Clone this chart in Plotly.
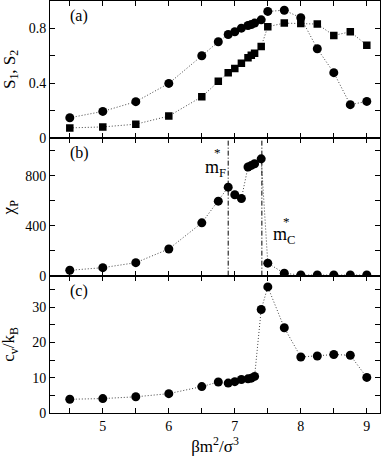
import plotly.graph_objects as go
from plotly.subplots import make_subplots

# beta m^2 / sigma^3
x_vals = [4.5, 5.0, 5.5, 6.0, 6.5, 6.75, 6.9, 7.0, 7.1, 7.2, 7.25, 7.3, 7.4, 7.5, 7.75, 8.0, 8.25, 8.5, 8.75, 9.0]

# panel (a): order parameters
s1 = [0.150, 0.196, 0.267, 0.400, 0.601, 0.703, 0.756, 0.776, 0.802, 0.822, 0.829, 0.839, 0.863,
      0.924, 0.933, 0.878, 0.652, 0.478, 0.245, 0.269]
s2 = [0.076, 0.083, 0.103, 0.162, 0.303, 0.415, 0.478, 0.508, 0.547, 0.586, 0.605, 0.620, 0.669,
      0.813, 0.839, 0.837, 0.832, 0.749, 0.776, 0.678]

# panel (b): susceptibility
chi_p = [43, 64, 104, 214, 423, 597, 709, 648, 618, 870, 883, 896, 936,
         100, 19, 5, 5, 5, 5, 5]

# panel (c): specific heat
cv = [3.9, 4.1, 4.6, 5.5, 7.5, 8.8, 8.5, 8.9, 9.5, 9.7, 9.9, 10.4, 29.4,
      35.8, 24.2, 15.9, 16.2, 16.6, 16.4, 10.1]

# transition markers m_F*, m_C*
m_crit = [6.9, 7.41]

# ticks (empty label = unlabelled minor tick)
x_tickvals = [4.5, 5, 5.5, 6, 6.5, 7, 7.5, 8, 8.5, 9]
x_ticktext = ["", "5", "", "6", "", "7", "", "8", "", "9"]
a_tickvals = [0, 0.2, 0.4, 0.6, 0.8]
a_ticktext = ["0", "", "0.4", "", "0.8"]
b_tickvals = [0, 200, 400, 600, 800, 1000]
b_ticktext = ["0", "", "400", "", "800", ""]
c_tickvals = [0, 5, 10, 15, 20, 25, 30, 35]
c_ticktext = ["0", "", "10", "", "20", "", "30", ""]

FONT = "Liberation Serif"
dot_line = dict(color="#444444", width=1, dash="1px,2px")

fig = make_subplots(rows=3, cols=1, shared_xaxes=True, vertical_spacing=0)

fig.add_trace(go.Scatter(x=x_vals, y=s1, mode="lines+markers", line=dot_line,
                         marker=dict(symbol="circle", size=9, color="black")), row=1, col=1)
fig.add_trace(go.Scatter(x=x_vals, y=s2, mode="lines+markers", line=dot_line,
                         marker=dict(symbol="square", size=7.5, color="black")), row=1, col=1)
fig.add_trace(go.Scatter(x=x_vals, y=chi_p, mode="lines+markers", line=dot_line,
                         marker=dict(symbol="circle", size=9, color="black")), row=2, col=1)
fig.add_trace(go.Scatter(x=x_vals, y=cv, mode="lines+markers", line=dot_line,
                         marker=dict(symbol="circle", size=9, color="black")), row=3, col=1)

# dash-dot vertical lines in (b)
for xm in m_crit:
    fig.add_shape(type="line", xref="x2", yref="y2 domain", x0=xm, x1=xm, y0=0, y1=1,
                  line=dict(color="black", width=1, dash="5px,2px,1px,2px"))

axis_style = dict(showline=True, linecolor="black", linewidth=1, mirror="ticks",
                  ticks="inside", ticklen=5, tickwidth=1.2, tickcolor="black", showgrid=False,
                  zeroline=False, tickfont=dict(family=FONT, size=14, color="black"))

fig.update_xaxes(range=[4.2, 9.2], tickmode="array", tickvals=x_tickvals, ticktext=x_ticktext,
                 **axis_style)
fig.update_yaxes(**axis_style)
fig.update_yaxes(range=[0, 1.0], tickmode="array", tickvals=a_tickvals, ticktext=a_ticktext,
                 row=1, col=1)
fig.update_yaxes(range=[0, 1100], tickmode="array", tickvals=b_tickvals, ticktext=b_ticktext,
                 row=2, col=1)
fig.update_yaxes(range=[0, 39], tickmode="array", tickvals=c_tickvals, ticktext=c_ticktext,
                 row=3, col=1)

fig.update_xaxes(title=dict(text="βm<sup>2</sup>/σ<sup>3</sup>", font=dict(family=FONT, size=17, color="black"),
                            standoff=4), row=3, col=1)

# y titles
ytitles = [("S<sub>1</sub>, S<sub>2</sub>", "y domain"), ("χ<sub>P</sub>", "y2 domain"),
           ("c<sub>v</sub>/k<sub>B</sub>", "y3 domain")]
for txt, yr in ytitles:
    fig.add_annotation(text=txt, xref="paper", yref=yr, x=-0.12, y=0.5, xanchor="center",
                       yanchor="middle", textangle=-90, showarrow=False,
                       font=dict(family=FONT, size=17, color="black"))

# panel labels
for lab, xr, yr in [("(a)", "x domain", "y domain"), ("(b)", "x2 domain", "y2 domain"),
                    ("(c)", "x3 domain", "y3 domain")]:
    fig.add_annotation(text=lab, xref=xr, yref=yr, x=0.055, y=0.97, xanchor="left", yanchor="top",
                       showarrow=False, font=dict(family=FONT, size=16, color="black"))

# m_F*, m_C* labels
fig.add_annotation(text="m<sub>F</sub>", xref="x2", yref="y2", x=6.52, y=860, xanchor="left",
                   yanchor="middle", showarrow=False, font=dict(family=FONT, size=18, color="black"))
fig.add_annotation(text="*", xref="x2", yref="y2", x=6.745, y=985, xanchor="center",
                   yanchor="middle", showarrow=False, font=dict(family=FONT, size=13, color="black"))
fig.add_annotation(text="m<sub>C</sub>", xref="x2", yref="y2", x=7.55, y=325, xanchor="left",
                   yanchor="middle", showarrow=False, font=dict(family=FONT, size=18, color="black"))
fig.add_annotation(text="*", xref="x2", yref="y2", x=7.79, y=431, xanchor="center",
                   yanchor="middle", showarrow=False, font=dict(family=FONT, size=13, color="black"))

fig.update_layout(width=382, height=459, margin=dict(l=50, r=2, t=1, b=46),
                  plot_bgcolor="white", paper_bgcolor="white", showlegend=False,
                  font=dict(family=FONT, color="black"))

fig.write_html("out.html", config={"displayModeBar": False},
               post_script="document.body.style.margin='0px';")
